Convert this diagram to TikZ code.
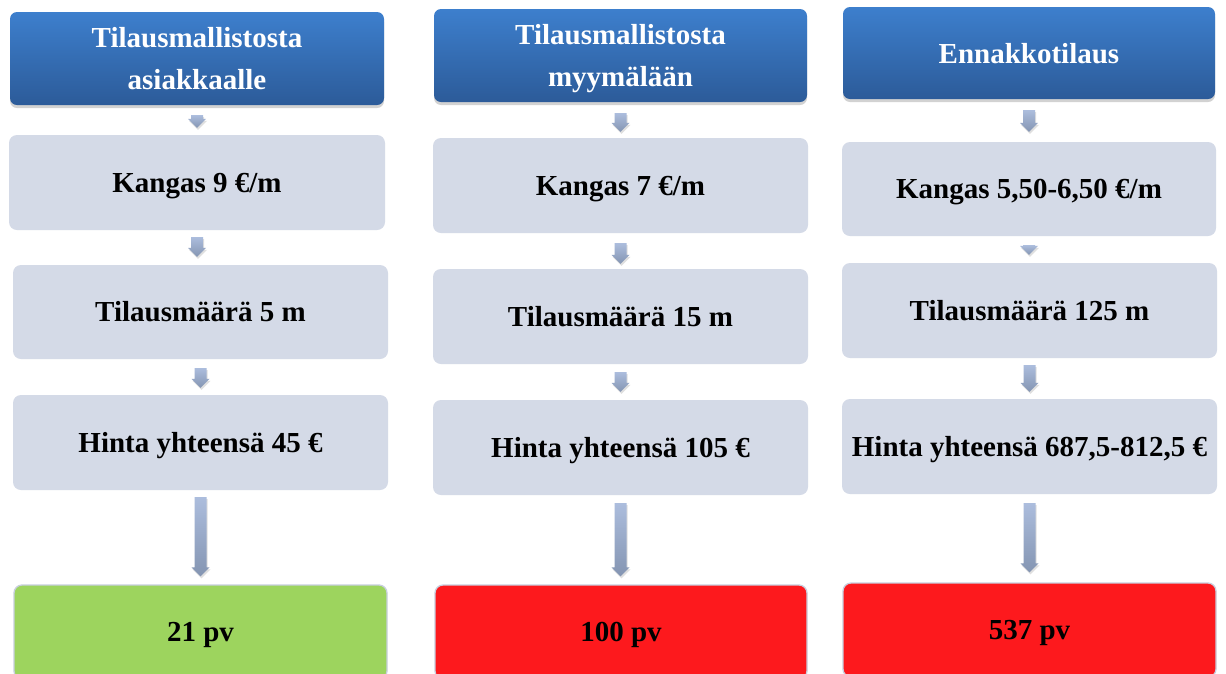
\documentclass[tikz,border=0pt]{standalone}
\usepackage{fontspec}
\setmainfont{Liberation Serif}
\usetikzlibrary{shadows,calc}
\definecolor{hdrtop}{RGB}{61,127,205}
\definecolor{hdrbot}{RGB}{44,91,153}
\definecolor{boxfill}{RGB}{212,218,231}
\definecolor{goodfill}{RGB}{157,212,94}
\definecolor{badfill}{RGB}{253,25,29}
\definecolor{endborder}{RGB}{200,207,222}
\definecolor{arrtop}{RGB}{172,189,221}
\definecolor{arrbot}{RGB}{132,149,178}
\tikzset{
  hdr/.style={rounded corners=7pt, top color=hdrtop, bottom color=hdrbot, text=white,
    drop shadow={opacity=0.35, shadow xshift=0pt, shadow yshift=-3pt},
    inner sep=0pt, font=\fontsize{29}{42}\selectfont\bfseries, text depth=0pt},
  stepbox/.style={rounded corners=8pt, fill=boxfill, inner sep=0pt,
    font=\fontsize{29}{35}\selectfont\bfseries, text height=19.2pt, text depth=0pt},
  endbox/.style={stepbox, draw=endborder, line width=1.3pt},
  arrowbody/.style={top color=arrtop, bottom color=arrbot,
    drop shadow={opacity=0.25, shadow xshift=1pt, shadow yshift=-2pt}}
}
\newcommand\flowarrow[4]{%
  \path[arrowbody] let \p1=(#1.south), \p2=(#2.north) in
    (\x1-6pt,\y1-#3pt) -- (\x1+6pt,\y1-#3pt) -- (\x1+6pt,\y2+#4pt+9pt) --
    (\x1+9pt,\y2+#4pt+9pt) -- (\x1,\y2+#4pt) -- (\x1-9pt,\y2+#4pt+9pt) --
    (\x1-6pt,\y2+#4pt+9pt) -- cycle;}
\newcommand\hdrtext[2]{\parbox[b]{340pt}{\centering #1\\#2}}
\begin{document}
\begin{tikzpicture}[x=1pt,y=-1pt]
\useasboundingbox (0,0) rectangle (1226,673);
\clip (0,0) rectangle (1226,673);
\fill[white] (0,0) rectangle (1226,673);
% column 1
\node[hdr, minimum width=374pt, minimum height=93pt] (h1) at (197,58.5) {\hdrtext{Tilausmallistosta}{asiakkaalle}};
\node[stepbox, minimum width=376pt, minimum height=95pt] (b11) at (197,182.5) {Kangas 9 €/m};
\node[stepbox, minimum width=375pt, minimum height=94pt] (b12) at (200.5,312) {Tilausmäärä 5 m};
\node[stepbox, minimum width=375pt, minimum height=95pt] (b13) at (200.5,442.5) {Hinta yhteensä 45 €};
\node[endbox, fill=goodfill, minimum width=373pt, minimum height=94pt] (e1) at (200.5,632) {21 pv};
% column 2
\node[hdr, minimum width=373pt, minimum height=93pt] (h2) at (620.5,55.5) {\hdrtext{Tilausmallistosta}{myymälään}};
\node[stepbox, minimum width=375pt, minimum height=95pt] (b21) at (620.5,185.5) {Kangas 7 €/m};
\node[stepbox, minimum width=375pt, minimum height=95pt] (b22) at (620.5,316.5) {Tilausmäärä 15 m};
\node[stepbox, minimum width=375pt, minimum height=95pt] (b23) at (620.5,447.5) {Hinta yhteensä 105 €};
\node[endbox, fill=badfill, minimum width=372pt, minimum height=94pt] (e2) at (621,632) {100 pv};
% column 3
\node[hdr, minimum width=372pt, minimum height=92pt] (h3) at (1029,53) {Ennakkotilaus};
\node[stepbox, minimum width=374pt, minimum height=94pt] (b31) at (1029,189) {Kangas 5,50-6,50 €/m};
\node[stepbox, minimum width=375pt, minimum height=95pt] (b32) at (1029.5,310.5) {Tilausmäärä 125 m};
\node[stepbox, minimum width=375pt, minimum height=95pt] (b33) at (1029.5,446.5) {Hinta yhteensä 687,5-812,5 €};
\node[endbox, fill=badfill, minimum width=373pt, minimum height=94pt] (e3) at (1029.5,630) {537 pv};
% arrows
\flowarrow{h1}{b11}{10}{7}
\flowarrow{b11}{b12}{7}{8}
\flowarrow{b12}{b13}{9}{7}
\flowarrow{b13}{e1}{7}{8}
\flowarrow{h2}{b21}{11}{6}
\flowarrow{b21}{b22}{10}{5}
\flowarrow{b22}{b23}{8}{8}
\flowarrow{b23}{e2}{8}{8}
\flowarrow{h3}{b31}{11}{10}
\flowarrow{b31}{b32}{9}{8}
\flowarrow{b32}{b33}{7}{7}
\flowarrow{b33}{e3}{9}{10}
\end{tikzpicture}
\end{document}
